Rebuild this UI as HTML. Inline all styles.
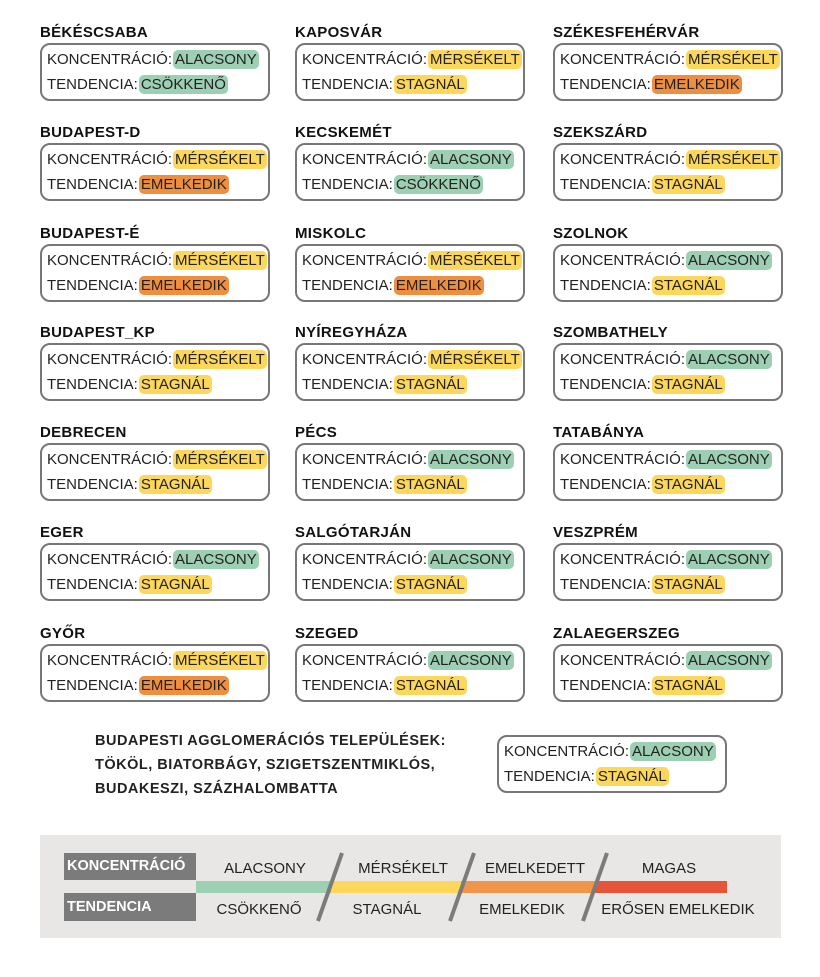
<!DOCTYPE html>
<html><head><meta charset="utf-8"><style>
*{margin:0;padding:0;box-sizing:border-box}
body{width:820px;height:977px;background:#fff;position:relative;font-family:"Liberation Sans","DejaVu Sans",sans-serif;color:#222;overflow:hidden}
.t{position:absolute;font-weight:bold;font-size:15px;letter-spacing:0.3px;color:#111}
.b{position:absolute;width:230px;height:58px;border:2px solid #777;border-radius:10px}
.l{position:absolute;left:5px;font-size:15px;white-space:nowrap;letter-spacing:0;color:#222}
.h{border-radius:5px;padding:1px 2px;margin-left:1px}
.g{background:#9dcfb2}.y{background:#fcd75c}.o{background:#ee8f3f}
.a{position:absolute;font-weight:bold;font-size:14.5px;left:95px;letter-spacing:0.5px}
</style></head><body>
<div id="c"></div>
<script>
var cols=[40,295,552];
var rows=[31,131,232,331,431,531,632];
var data=[
[["BÉKÉSCSABA","g","ALACSONY","g","CSÖKKENŐ"],["KAPOSVÁR","y","MÉRSÉKELT","y","STAGNÁL"],["SZÉKESFEHÉRVÁR","y","MÉRSÉKELT","o","EMELKEDIK"]],
[["BUDAPEST-D","y","MÉRSÉKELT","o","EMELKEDIK"],["KECSKEMÉT","g","ALACSONY","g","CSÖKKENŐ"],["SZEKSZÁRD","y","MÉRSÉKELT","y","STAGNÁL"]],
[["BUDAPEST-É","y","MÉRSÉKELT","o","EMELKEDIK"],["MISKOLC","y","MÉRSÉKELT","o","EMELKEDIK"],["SZOLNOK","g","ALACSONY","y","STAGNÁL"]],
[["BUDAPEST_KP","y","MÉRSÉKELT","y","STAGNÁL"],["NYÍREGYHÁZA","y","MÉRSÉKELT","y","STAGNÁL"],["SZOMBATHELY","g","ALACSONY","y","STAGNÁL"]],
[["DEBRECEN","y","MÉRSÉKELT","y","STAGNÁL"],["PÉCS","g","ALACSONY","y","STAGNÁL"],["TATABÁNYA","g","ALACSONY","y","STAGNÁL"]],
[["EGER","g","ALACSONY","y","STAGNÁL"],["SALGÓTARJÁN","g","ALACSONY","y","STAGNÁL"],["VESZPRÉM","g","ALACSONY","y","STAGNÁL"]],
[["GYŐR","y","MÉRSÉKELT","o","EMELKEDIK"],["SZEGED","g","ALACSONY","y","STAGNÁL"],["ZALAEGERSZEG","g","ALACSONY","y","STAGNÁL"]]];
var h="";
function box(x,y,c1,v1,c2,v2){return '<div class="b" style="left:'+x+'px;top:'+y+'px"><div class="l" style="top:6px">KONCENTRÁCIÓ:<span class="h '+c1+'">'+v1+'</span></div><div class="l" style="top:31px">TENDENCIA:<span class="h '+c2+'">'+v2+'</span></div></div>';}
for(var r=0;r<7;r++)for(var c=0;c<3;c++){var d=data[r][c];var x=cols[c]+(c==2?1:0);
h+='<div class="t" style="left:'+x+'px;top:'+(rows[r]-7)+'px">'+d[0]+'</div>';
h+=box(x,rows[r]+12,d[1],d[2],d[3],d[4]);}
h+='<div class="a" style="top:733px">BUDAPESTI AGGLOMERÁCIÓS TELEPÜLÉSEK:</div><div class="a" style="top:757px">TÖKÖL, BIATORBÁGY, SZIGETSZENTMIKLÓS,</div><div class="a" style="top:781px">BUDAKESZI, SZÁZHALOMBATTA</div>';
h+=box(497,735,"g","ALACSONY","y","STAGNÁL");
document.getElementById("c").innerHTML=h;
</script>
<div style="position:absolute;left:40px;top:835px;width:741px;height:103px;background:#e8e7e5"></div>
<div style="position:absolute;left:64px;top:853px;width:132px;height:27px;background:#7b7b7b;color:#fff;font-weight:bold;font-size:14.5px;line-height:27px;padding-left:3px">KONCENTRÁCIÓ</div>
<div style="position:absolute;left:64px;top:893px;width:132px;height:28px;background:#7b7b7b;color:#fff;font-weight:bold;font-size:14.5px;line-height:28px;padding-left:3px">TENDENCIA</div>
<div style="position:absolute;left:196px;top:881px;width:135px;height:12px;background:#9dcfb2"></div>
<div style="position:absolute;left:331px;top:881px;width:130px;height:12px;background:#fcd75c"></div>
<div style="position:absolute;left:461px;top:881px;width:134px;height:12px;background:#f0954a"></div>
<div style="position:absolute;left:595px;top:881px;width:132px;height:12px;background:#e65539"></div>
<svg style="position:absolute;left:0;top:0" width="820" height="977"><g stroke="#7b7b7b" stroke-width="4"><line x1="342" y1="853" x2="318" y2="921"/><line x1="474" y1="853" x2="450" y2="921"/><line x1="607" y1="853" x2="583" y2="921"/></g>
<g font-family="Liberation Sans,sans-serif" font-size="15" fill="#222" text-anchor="middle">
<text x="265" y="873">ALACSONY</text><text x="403" y="873">MÉRSÉKELT</text><text x="535" y="873">EMELKEDETT</text><text x="669" y="873">MAGAS</text>
<text x="259" y="914">CSÖKKENŐ</text><text x="387" y="914">STAGNÁL</text><text x="522" y="914">EMELKEDIK</text><text x="678" y="914">ERŐSEN EMELKEDIK</text></g></svg>
</body></html>
